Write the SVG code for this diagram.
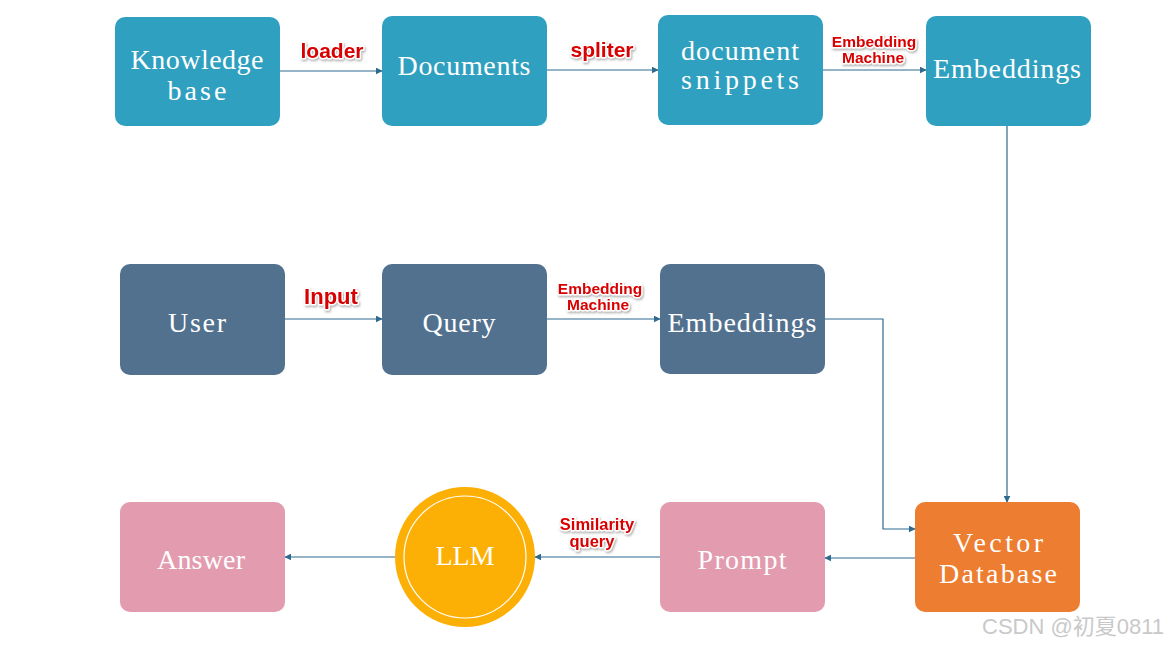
<svg xmlns="http://www.w3.org/2000/svg" width="1169" height="646" viewBox="0 0 1169 646">
  <defs>
    <style>
      .box { stroke: none; }
      .teal { fill: #2FA0BF; }
      .slate { fill: #52718F; }
      .pink { fill: #E39BB0; }
      .orange { fill: #ED7D31; }
      .nt { font-family: "Liberation Serif", "DejaVu Serif", serif; font-size: 28px; fill: #FFFFFF; text-anchor: middle; }
      .conn { fill: none; stroke: #2F6A8F; stroke-width: 1.2; marker-end: url(#arr); }
      .lbl { font-family: "Liberation Sans", Arial, sans-serif; font-weight: bold; fill: #D80000; stroke: #FFFFFF; stroke-width: 3; stroke-linejoin: round; paint-order: stroke; text-anchor: middle; filter: url(#sh); }
      .wm { font-family: "Liberation Sans", "Noto Sans CJK SC", sans-serif; font-size: 22px; fill: #C9C9C9; }
    </style>
    <marker id="arr" viewBox="0 0 10 10" refX="9" refY="5" markerWidth="7" markerHeight="7" orient="auto" markerUnits="userSpaceOnUse">
      <path d="M0,0 L10,5 L0,10 z" fill="#2F6A8F"/>
    </marker>
    <filter id="sh" x="-20%" y="-30%" width="140%" height="160%">
      <feDropShadow dx="1" dy="1.5" stdDeviation="1" flood-color="#777777" flood-opacity="0.6"/>
    </filter>
  </defs>
  <rect width="1169" height="646" fill="#FFFFFF"/>

  <g id="connectors">
    <line class="conn" x1="280" y1="71" x2="382" y2="71"/>
    <line class="conn" x1="547" y1="70" x2="658" y2="70"/>
    <line class="conn" x1="823" y1="70" x2="926" y2="70"/>
    <line class="conn" x1="1007" y1="126" x2="1007" y2="502"/>
    <line class="conn" x1="285" y1="319" x2="382" y2="319"/>
    <line class="conn" x1="547" y1="319" x2="660" y2="319"/>
    <polyline class="conn" points="825,319 883,319 883,529 915,529"/>
    <line class="conn" x1="915" y1="558" x2="825" y2="558"/>
    <line class="conn" x1="660" y1="557" x2="535" y2="557"/>
    <line class="conn" x1="395" y1="557" x2="285" y2="557"/>
  </g>

  <g id="labels">
    <text class="lbl" x="332" y="58" font-size="21">loader</text>
    <text class="lbl" x="602" y="57" font-size="21">spliter</text>
    <text class="lbl" x="874" y="47" font-size="15.5">Embedding</text>
    <text class="lbl" x="873" y="63" font-size="15.5">Machine</text>
    <text class="lbl" x="331" y="304" font-size="22">Input</text>
    <text class="lbl" x="600" y="294" font-size="15.5">Embedding</text>
    <text class="lbl" x="598" y="310" font-size="15.5">Machine</text>
    <text class="lbl" x="597" y="530" font-size="16.5">Similarity</text>
    <text class="lbl" x="592" y="547" font-size="16.5">query</text>
  </g>

  <g id="knowledge-base">
    <rect class="box teal" x="115" y="17" width="165" height="109" rx="10"/>
    <text class="nt" x="197" y="69" textLength="133" lengthAdjust="spacing">Knowledge</text>
    <text class="nt" x="197" y="100" textLength="59" lengthAdjust="spacing">base</text>
  </g>
  <g id="documents">
    <rect class="box teal" x="382" y="16" width="165" height="110" rx="10"/>
    <text class="nt" x="464" y="75" textLength="133" lengthAdjust="spacing">Documents</text>
  </g>
  <g id="document-snippets">
    <rect class="box teal" x="658" y="15" width="165" height="110" rx="10"/>
    <text class="nt" x="740" y="60" textLength="118" lengthAdjust="spacing">document</text>
    <text class="nt" x="740" y="89" textLength="118" lengthAdjust="spacing">snippets</text>
  </g>
  <g id="embeddings-top">
    <rect class="box teal" x="926" y="16" width="165" height="110" rx="10"/>
    <text class="nt" x="1007" y="78" textLength="148" lengthAdjust="spacing">Embeddings</text>
  </g>

  <g id="user">
    <rect class="box slate" x="120" y="264" width="165" height="111" rx="10"/>
    <text class="nt" x="197" y="332" textLength="58" lengthAdjust="spacing">User</text>
  </g>
  <g id="query">
    <rect class="box slate" x="382" y="264" width="165" height="111" rx="10"/>
    <text class="nt" x="459" y="332" textLength="73" lengthAdjust="spacing">Query</text>
  </g>
  <g id="embeddings-mid">
    <rect class="box slate" x="660" y="264" width="165" height="110" rx="10"/>
    <text class="nt" x="742" y="332" textLength="149" lengthAdjust="spacing">Embeddings</text>
  </g>

  <g id="answer">
    <rect class="box pink" x="120" y="502" width="165" height="110" rx="10"/>
    <text class="nt" x="201" y="569" textLength="88" lengthAdjust="spacing">Answer</text>
  </g>
  <g id="llm">
    <circle cx="465" cy="557" r="70" fill="#FCAF05"/>
    <circle cx="465" cy="557" r="61" fill="none" stroke="#FFFFFF" stroke-width="1.2"/>
    <text class="nt" x="465" y="565" font-size="26">LLM</text>
  </g>
  <g id="prompt">
    <rect class="box pink" x="660" y="502" width="165" height="110" rx="10"/>
    <text class="nt" x="742" y="569" textLength="89" lengthAdjust="spacing">Prompt</text>
  </g>
  <g id="vector-database">
    <rect class="box orange" x="915" y="502" width="165" height="110" rx="10"/>
    <text class="nt" x="998" y="552" textLength="90" lengthAdjust="spacing">Vector</text>
    <text class="nt" x="998" y="583" textLength="118" lengthAdjust="spacing">Database</text>
  </g>

  <text class="wm" x="982" y="634">CSDN @初夏0811</text>
</svg>
